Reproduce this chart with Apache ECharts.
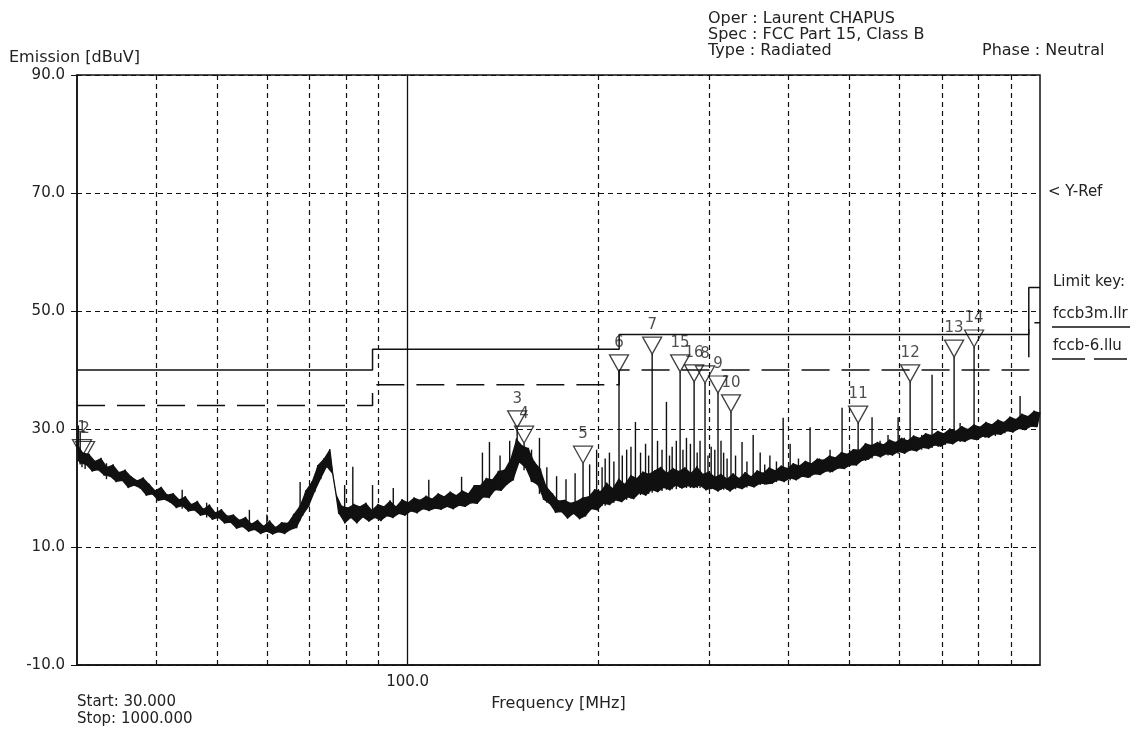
<!DOCTYPE html>
<html>
<head>
<meta charset="utf-8">
<title>Emission scan</title>
<script src="https://cdn.jsdelivr.net/npm/echarts@6/dist/echarts.min.js"></script>
<style>
  html, body { margin: 0; padding: 0; background: #fff; }
  #chart { width: 1137px; height: 730px; }
</style>
</head>
<body>
<div id="chart"></div>
<script>
// sweep: start / stop frequency [MHz] and trace level [dBuV] per sweep point
// (even points sit on the top of the noise band, odd points on its floor)
var sweepStart = 30;
var sweepStop = 1000;
var traceLevel = [
  27.5, 24.2, 26.0, 23.9, 25.8, 22.8, 24.6, 23.0, 25.1, 22.1,
  23.6, 21.9, 24.0, 21.0, 22.7, 21.2, 23.1, 20.0, 22.0, 20.4,
  21.3, 19.9, 21.8, 18.7, 20.7, 18.9, 19.6, 17.8, 20.2, 18.0,
  18.9, 17.5, 19.1, 16.6, 18.1, 16.9, 18.6, 16.0, 17.3, 16.2,
  17.8, 15.3, 16.5, 15.5, 17.2, 14.6, 15.9, 14.9, 16.4, 14.0,
  15.3, 14.1, 15.5, 13.1, 14.6, 13.4, 15.1, 12.6, 14.0, 12.9,
  14.6, 12.2, 13.6, 12.6, 14.5, 12.1, 13.4, 12.5, 14.2, 12.2,
  14.1, 12.9, 15.6, 13.2, 17.0, 15.3, 19.6, 16.8, 21.1, 19.3,
  23.9, 21.5, 25.0, 23.5, 26.6, 22.3, 19.2, 15.6, 17.0, 14.0,
  16.7, 14.9, 17.3, 14.0, 16.9, 15.0, 17.5, 14.3, 16.3, 14.9,
  17.3, 14.4, 16.9, 15.2, 17.9, 14.9, 16.9, 15.6, 18.1, 15.3,
  17.6, 16.0, 18.4, 15.7, 18.0, 16.4, 18.7, 16.1, 18.2, 16.5,
  19.1, 16.3, 18.6, 16.8, 19.4, 16.4, 18.8, 17.0, 19.6, 16.8,
  19.1, 17.4, 20.5, 17.3, 20.5, 18.4, 21.7, 18.3, 21.5, 19.6,
  22.9, 19.5, 23.1, 20.6, 24.9, 21.3, 28.4, 24.3, 27.2, 23.4,
  26.8, 21.1, 24.5, 20.5, 23.3, 18.0, 20.3, 17.3, 19.1, 15.8,
  17.9, 15.9, 18.0, 14.8, 17.5, 15.6, 17.8, 14.7, 18.4, 15.2,
  18.6, 16.4, 19.8, 16.2, 19.5, 17.3, 20.9, 17.1, 20.0, 17.9,
  21.6, 17.6, 20.7, 18.4, 22.2, 18.1, 21.7, 19.1, 22.8, 18.7,
  22.4, 19.6, 23.0, 19.3, 23.6, 20.0, 22.6, 19.6, 23.4, 20.4,
  22.9, 19.9, 23.5, 20.3, 22.6, 20.0, 23.7, 20.4, 22.4, 19.6,
  22.8, 19.9, 21.9, 19.4, 22.4, 20.0, 21.6, 19.4, 22.5, 20.1,
  21.7, 19.8, 22.7, 20.4, 22.0, 20.1, 23.0, 20.7, 22.6, 20.6,
  23.5, 20.7, 23.0, 21.3, 23.8, 21.0, 23.4, 21.6, 24.2, 21.3,
  23.8, 21.9, 24.6, 21.7, 24.2, 22.3, 25.0, 22.2, 24.8, 22.8,
  25.5, 22.7, 25.2, 23.3, 26.1, 23.2, 25.8, 23.8, 26.6, 23.8,
  26.5, 24.6, 27.6, 24.8, 27.3, 25.5, 27.8, 25.2, 27.4, 25.7,
  28.2, 25.5, 27.8, 26.1, 28.5, 25.8, 28.1, 26.4, 28.9, 26.2,
  28.5, 26.8, 29.3, 26.6, 29.0, 27.2, 29.7, 27.0, 29.3, 27.6,
  30.1, 27.4, 29.7, 28.0, 30.5, 27.8, 30.0, 28.3, 30.8, 28.1,
  30.4, 28.7, 31.2, 28.5, 30.8, 29.1, 31.6, 29.0, 31.2, 29.6,
  32.1, 29.4, 31.7, 30.0, 32.6, 29.8, 32.2, 30.4, 33.1, 30.3,
  32.8
];

// narrow-band spikes: [freq MHz, floor dBuV, peak dBuV]
var spikes = [
  [30.15, 24.5, 30.6], [30.35, 24.0, 29.5], [30.55, 23.5, 25.3], [30.9, 23.2, 25.0],
  [33.4, 21.5, 24.2], [44.0, 16.5, 19.7], [48.1, 15.0, 17.5], [56.2, 13.2, 16.3],
  [59.9, 12.8, 15.5], [67.6, 14.5, 21.0], [79.5, 15.0, 20.5], [81.9, 15.0, 23.6],
  [88.0, 15.0, 20.5], [94.9, 15.5, 20.0], [108.0, 16.5, 21.4], [121.7, 17.0, 21.9],
  [131.3, 18.5, 26.0], [134.7, 19.0, 27.8], [140.0, 20.5, 25.5], [145.0, 22.5, 28.0],
  [149.0, 24.0, 30.2], [152.8, 23.0, 27.6], [157.0, 21.0, 26.5], [161.6, 19.0, 28.5],
  [166.0, 17.5, 23.5], [172.0, 16.5, 22.0], [178.0, 16.0, 21.5], [184.0, 16.0, 22.5],
  [189.4, 15.5, 24.2], [194.0, 16.5, 24.0], [199.0, 16.5, 26.5], [203.0, 17.0, 23.5],
  [205.3, 17.0, 25.0], [208.5, 17.2, 26.0], [211.9, 17.5, 24.5], [215.9, 18.0, 39.7],
  [218.5, 18.0, 25.5], [222.0, 18.0, 26.5], [225.5, 18.2, 27.0], [229.2, 18.5, 31.2],
  [233.5, 18.8, 26.0], [237.8, 19.0, 27.5], [240.5, 19.0, 25.5], [243.6, 19.2, 42.7],
  [248.4, 19.3, 28.0], [252.5, 19.5, 26.5], [256.6, 19.7, 34.6], [259.5, 19.7, 25.5],
  [262.0, 19.8, 27.0], [266.0, 19.8, 28.0], [269.7, 20.0, 39.7], [272.5, 20.0, 26.5],
  [276.0, 20.0, 28.5], [280.0, 20.0, 27.5], [283.8, 20.1, 38.0], [287.0, 20.0, 26.0],
  [290.0, 20.0, 28.0], [295.3, 20.0, 37.8], [298.5, 19.9, 25.5], [302.0, 19.8, 27.0],
  [306.0, 19.8, 26.5], [309.6, 19.7, 36.1], [313.0, 19.7, 28.0], [316.0, 19.7, 26.0],
  [320.0, 19.7, 25.0], [324.6, 19.7, 32.9], [330.0, 19.8, 25.5], [337.9, 20.0, 27.8],
  [344.0, 20.1, 24.5], [351.9, 20.2, 29.0], [361.0, 20.5, 26.0], [367.0, 20.6, 24.0],
  [374.0, 20.8, 25.5], [383.0, 21.0, 24.5], [392.5, 21.2, 31.9], [402.6, 21.3, 27.5],
  [415.0, 21.5, 25.0], [432.9, 21.8, 30.3], [448.0, 22.2, 25.0], [465.6, 22.6, 26.5],
  [486.4, 23.3, 33.6], [500.0, 23.8, 26.5], [515.7, 24.2, 31.0], [530.0, 24.6, 27.5],
  [542.5, 25.0, 32.0], [558.6, 25.2, 28.0], [575.0, 25.5, 29.0], [596.5, 25.8, 32.0],
  [610.0, 26.0, 28.5], [623.2, 26.3, 38.0], [650.0, 26.5, 29.0], [675.0, 26.8, 39.2],
  [690.0, 27.0, 29.0], [708.0, 27.3, 28.8], [731.4, 27.6, 42.2], [747.6, 27.8, 31.0],
  [786.6, 28.2, 43.9], [819.0, 28.5, 30.5], [850.0, 28.8, 31.0], [880.0, 29.3, 31.0],
  [930.0, 30.0, 35.6], [970.0, 30.5, 32.0]
];

// markers
var markerNo = ['1', '2', '3', '4', '5', '6', '7', '15', '16', '8', '9', '10', '11', '12', '13', '14'];
var markerFreq = [30.55, 30.9, 149.0, 152.8, 189.4, 215.9, 243.6, 269.7, 283.8, 295.3, 309.6, 324.6, 515.7, 623.2, 731.4, 786.6];
var markerLevel = [25.3, 25.0, 30.2, 27.6, 24.2, 39.7, 42.7, 39.7, 38.0, 37.8, 36.1, 32.9, 31.0, 38.0, 42.2, 43.9];

// limit lines: fccb3m.llr (solid) and fccb-6.llu (dashed)
var limitMain = [[30, 40], [88, 40], [88, 43.5], [216, 43.5], [216, 46], [960, 46], [960, 54], [1000, 54]];
var limitLow = [[30, 34], [88, 34], [88, 37.5], [216, 37.5], [216, 40], [960, 40], [960, 48], [1000, 48]];

// vertical grid frequencies
var gridFreq = [40, 50, 60, 70, 80, 90, 200, 300, 400, 500, 600, 700, 800, 900];

var FONT = '"DejaVu Sans", sans-serif';
var INK = '#111';
var GRID_DASH = [5, 4];

var traceData = traceLevel.map(function (v, i) {
  var f = sweepStart * Math.pow(sweepStop / sweepStart, i / (traceLevel.length - 1));
  return [f, v];
});
var markerData = markerFreq.map(function (f, i) { return [f, markerLevel[i]]; });

var chart = echarts.init(document.getElementById('chart'));
var gridLines = gridFreq.map(function (f) { return { xAxis: f }; });
gridLines.push({ xAxis: 100, lineStyle: { type: 'solid', width: 1.3, color: INK } });

var option = {
  animation: false,
  backgroundColor: '#fff',
  grid: { left: 77, top: 75, width: 963, height: 590, show: true, borderColor: INK, borderWidth: 1.5, backgroundColor: 'transparent' },
  xAxis: {
    type: 'log', logBase: 10, min: sweepStart, max: sweepStop,
    name: 'Frequency [MHz]', nameLocation: 'middle', nameGap: 31,
    nameTextStyle: { fontFamily: FONT, fontSize: 16, color: '#222' },
    axisLine: { onZero: false, lineStyle: { color: INK, width: 1.5 } },
    axisTick: { show: false },
    splitLine: { show: false },
    axisLabel: {
      customValues: [100],
      margin: 10, fontFamily: FONT, fontSize: 15, color: '#222',
      formatter: function (v) { return Math.abs(v - 100) < 1e-6 ? '100.0' : ''; }
    }
  },
  yAxis: {
    type: 'value', min: -10, max: 90, interval: 10,
    name: 'Emission [dBuV]', nameLocation: 'end', nameGap: 9,
    nameTextStyle: { fontFamily: FONT, fontSize: 16, color: '#222', align: 'left', padding: [0, 0, 0, -68] },
    axisLine: { show: true, onZero: false, lineStyle: { color: INK, width: 1.5 } },
    axisTick: { show: true, inside: false, length: 6, customValues: [-10, 10, 30, 50, 70, 90], lineStyle: { color: INK } },
    splitLine: { show: true, lineStyle: { color: INK, width: 1.2, type: GRID_DASH } },
    axisLabel: {
      margin: 12, fontFamily: FONT, fontSize: 15, color: '#222',
      formatter: function (v) { return ((v + 10) % 20 === 0) ? v.toFixed(1) : ''; }
    }
  },
  series: [
    {
      // solid noise band between the top (even) and floor (odd) sweep points
      name: 'band', type: 'custom', data: traceData, z: 2, silent: true,
      renderItem: function (params, api) {
        if (params.dataIndex !== 0) return null;
        var top = [], floor = [];
        traceData.forEach(function (d, i) {
          (i % 2 === 0 ? top : floor).push(api.coord(d));
        });
        return { type: 'polygon', shape: { points: top.concat(floor.reverse()) }, style: { fill: INK } };
      }
    },
    {
      name: 'trace', type: 'line', data: traceData, showSymbol: false, z: 2,
      lineStyle: { color: INK, width: 1.3 }, silent: true
    },
    {
      name: 'spikes', type: 'custom', data: spikes, z: 2, silent: true,
      encode: { x: 0, y: [1, 2] },
      renderItem: function (params, api) {
        var p1 = api.coord([api.value(0), api.value(1)]);
        var p2 = api.coord([api.value(0), api.value(2)]);
        return { type: 'line', shape: { x1: p1[0], y1: p1[1], x2: p2[0], y2: p2[1] }, style: { stroke: INK, lineWidth: 1.4 } };
      }
    },
    {
      name: 'fccb3m.llr', type: 'line', data: limitMain, showSymbol: false, z: 3, silent: true,
      lineStyle: { color: INK, width: 1.5 },
      markLine: {
        silent: true, symbol: ['none', 'none'], label: { show: false },
        lineStyle: { color: INK, width: 1.2, type: GRID_DASH },
        data: gridLines
      }
    },
    {
      name: 'fccb-6.llu', type: 'line', data: limitLow, showSymbol: false, z: 3, silent: true,
      lineStyle: { color: INK, width: 1.5, type: [28, 12] }
    },
    {
      name: 'markers', type: 'scatter', data: markerData, z: 4, silent: true,
      symbol: 'path://M0,0L20,0L10,18Z', symbolSize: [19, 17], symbolKeepAspect: false,
      symbolOffset: [0, -8.5],
      itemStyle: { color: 'rgba(255,255,255,0)', borderColor: INK, borderWidth: 1.3 },
      label: {
        show: true, position: 'top', distance: 4,
        fontFamily: FONT, fontSize: 15, color: '#222',
        formatter: function (p) { return markerNo[p.dataIndex]; }
      }
    }
  ],
  graphic: [
    { type: 'text', left: 708, top: 11, style: { text: 'Oper : Laurent CHAPUS', font: '16px ' + FONT, fill: '#222' } },
    { type: 'text', left: 708, top: 27, style: { text: 'Spec : FCC Part 15, Class B', font: '16px ' + FONT, fill: '#222' } },
    { type: 'text', left: 708, top: 43, style: { text: 'Type : Radiated', font: '16px ' + FONT, fill: '#222' } },
    { type: 'text', left: 982, top: 43, style: { text: 'Phase : Neutral', font: '16px ' + FONT, fill: '#222' } },
    { type: 'text', left: 1048, top: 185, style: { text: '< Y-Ref', font: '15px ' + FONT, fill: '#222' } },
    { type: 'text', left: 1053, top: 275, style: { text: 'Limit key:', font: '15px ' + FONT, fill: '#222' } },
    { type: 'text', left: 1053, top: 307, style: { text: 'fccb3m.llr', font: '15px ' + FONT, fill: '#222' } },
    { type: 'line', shape: { x1: 1052, y1: 327, x2: 1130, y2: 327 }, style: { stroke: INK, lineWidth: 1.5 } },
    { type: 'text', left: 1053, top: 339, style: { text: 'fccb-6.llu', font: '15px ' + FONT, fill: '#222' } },
    { type: 'line', shape: { x1: 1052, y1: 359, x2: 1085, y2: 359 }, style: { stroke: INK, lineWidth: 1.5 } },
    { type: 'line', shape: { x1: 1094, y1: 359, x2: 1127, y2: 359 }, style: { stroke: INK, lineWidth: 1.5 } },
    { type: 'text', left: 77, top: 695, style: { text: 'Start: 30.000', font: '15px ' + FONT, fill: '#222' } },
    { type: 'text', left: 77, top: 712, style: { text: 'Stop: 1000.000', font: '15px ' + FONT, fill: '#222' } }
  ]
};
chart.setOption(option);
</script>
</body>
</html>
